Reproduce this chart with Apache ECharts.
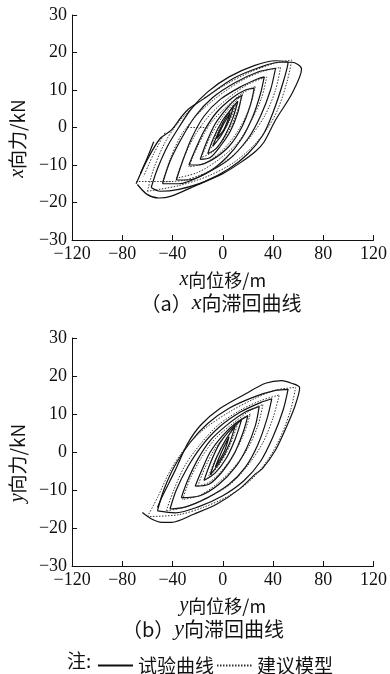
<!DOCTYPE html>
<html>
<head>
<meta charset="utf-8">
<script src="https://cdn.jsdelivr.net/npm/echarts@6/dist/echarts.min.js"></script>
<style>
  html, body { margin: 0; padding: 0; background: #fff; }
  #chart { width: 390px; height: 674px; }
</style>
</head>
<body>
<div id="chart"></div>
<script>
// x向滞回曲线: 试验曲线 (位移, 力 kN)
const xTest1 = [[-69,-15],[-60,-8.5],[-50,-3],[-41,-0.7],[-33,2.8],[-27,5],[-15,7.7],[8,13],[29,16],[45,17.4],[55,17.4],[62.7,15.6],
  [55,9],[42,2],[33,-3.8],[26,-6.4],[13.5,-9.5],[0,-12.3],[-23,-15.7],[-41,-18.3],[-51,-18.8],[-60,-17.9],[-68,-15.2]];
const xTest2 = [[-57,-16],[-52,-11],[-44,-5],[-35,0],[-25,5],[-12,9.5],[5,13.5],[25,16.5],[42,17.8],[52,17.5],
  [48,12],[40,4],[32,-2],[20,-7],[5,-11],[-15,-14.5],[-35,-16.5],[-50,-17],[-57,-16]];
const xTest3 = [[-48,-15],[-42,-9],[-33,-3],[-22,3],[-8,8],[10,12],[28,14.8],[42,15.8],
  [38,10],[30,3],[20,-3],[5,-8.5],[-15,-12.5],[-35,-15],[-48,-15]];
const xTest4 = [[-37,-14],[-32,-9],[-25,-3],[-15,3],[-2,7.5],[15,11],[28,13],[33,13.5],
  [30,9],[24,3],[15,-3],[3,-8],[-12,-12],[-28,-14],[-37,-14]];
const xTest5 = [[-27,-10],[-22,-6],[-15,-1],[-5,4],[8,8],[18,10],[25,10.5],
  [22,6],[15,0],[5,-5],[-8,-8.5],[-20,-10],[-27,-10]];
const xTest6 = [[-18,-8.5],[-13,-4],[-6,1],[3,5],[10,7.5],[15,8.5],
  [12,4],[6,-1],[-2,-5],[-10,-8],[-18,-8.5]];
const xTest7 = [[-12,-7],[-7,-2.5],[0,2],[7,5],[12,7],[8,2.5],[2,-2],[-5,-5.5],[-12,-7]];
const xTest8 = [[-8,-5],[-3,-1],[3,3],[9,6],[5,2],[-1,-2],[-8,-5]];
const xTest9 = [[-5,-3],[0,0.5],[6,4],[1,-0.5],[-5,-3]];
const xTestStart = [[-55,-3.8],[-60,-8],[-65.5,-12.2]];

// x向滞回曲线: 建议模型
const xModel1 = [[-60,-17],[-55,-11],[-46,-4],[-35,1.5],[-20,6.5],[0,11],[20,14.5],[40,17],[55,18],
  [51,12],[44,5],[36,0],[24,-5],[8,-9.5],[-12,-13],[-35,-15.5],[-60,-17]];
const xModel2 = [[-48,-14.5],[-42,-8.5],[-33,-2],[-20,3.5],[-5,8],[15,12.5],[32,15],[46,16],
  [42,10],[34,3.5],[22,-2.5],[8,-7.5],[-10,-11.5],[-30,-14],[-48,-14.5]];
const xModel3 = [[-37,-13.5],[-31,-8],[-22,-2],[-10,3.5],[5,8],[20,11.5],[35,13.5],
  [31,8],[23,2],[12,-4],[-3,-8.5],[-20,-12],[-37,-13.5]];
const xModel4 = [[-27,-10.5],[-20,-5],[-10,1],[3,5.5],[15,9],[26,11],
  [21,5],[12,-1],[0,-6],[-14,-9.5],[-27,-10.5]];
const xModel5 = [[-17,-8],[-10,-2.5],[0,3],[9,6.5],[16,9],[10,3],[2,-2.5],[-8,-6.5],[-17,-8]];
const xModel6 = [[-11,-6],[-4,-1],[4,3.5],[11,6.5],[5,1.5],[-3,-3],[-11,-6]];
const xModelStart = [[-46,-1.4],[-55,-7],[-63,-13]];
const xModelFlat1 = [[-69,-14.4],[-40,-14.4]];
const xModelFlat2 = [[-28,0],[-12,0]];

// y向滞回曲线: 试验曲线
const yTest1 = [[-52,-14.6],[-48.5,-11.9],[-38,-4.9],[-28,2.2],[-17.5,7.1],[-2,11.5],[18.6,15.4],[34,18.1],[47,18.8],[54.7,18.1],[61.2,16.9],
  [57.3,11.9],[49.5,5.7],[41.8,0.4],[31.5,-4.4],[26.3,-5.7],[13.4,-9.7],[-4.6,-13.7],[-22.7,-16.3],[-40.8,-18.5],[-48.5,-18.5],[-56.3,-17.7],[-64,-15.9]];
const yTest2 = [[-52,-15.5],[-47,-10],[-38,-3.5],[-26,2.5],[-12,7.5],[5,11.5],[25,14.5],[42,16.2],[52,16.5],
  [48,11],[40,4],[30,-2.5],[17,-7.5],[0,-11.5],[-20,-14.5],[-38,-16],[-52,-15.5]];
const yTest3 = [[-42,-15],[-37,-10],[-28,-4],[-17,1.5],[-3,6.5],[14,10.5],[30,13],[39,14],
  [35,8.5],[28,2],[18,-4],[5,-8.5],[-12,-12],[-30,-14.5],[-42,-15]];
const yTest4 = [[-33,-12],[-28,-7.5],[-20,-2],[-10,3],[3,7],[18,10.5],[29,12],
  [26,7],[19,1],[10,-4],[-3,-8.5],[-18,-11.5],[-33,-12]];
const yTest5 = [[-22,-9],[-17,-5],[-10,0],[-1,4],[10,7.5],[20,9.5],
  [16,5],[9,-0.5],[0,-5],[-11,-8.5],[-22,-9]];
const yTest6 = [[-15,-7.5],[-10,-3],[-3,2],[5,5.5],[15,8.5],[10,3.5],[3,-1.5],[-6,-5.5],[-15,-7.5]];
const yTest7 = [[-10,-6],[-5,-1.5],[2,3],[10,7],[5,2],[-2,-2.5],[-10,-6]];
const yTest8 = [[-6,-4],[-1,0],[5,4],[1,0],[-6,-4]];

// y向滞回曲线: 建议模型
const yModel1 = [[-60,-17],[-52,-12],[-42,-5],[-30,1],[-15,6],[5,10.5],[25,14],[42,16.3],[58,17],
  [54,11],[46,4],[36,-2],[22,-7.5],[5,-11.5],[-15,-14.5],[-35,-16.5],[-60,-17]];
const yModel2 = [[-45,-15.5],[-39,-10],[-30,-3.5],[-18,2],[-4,7],[14,11],[30,13.5],[45,15],
  [40,9],[32,2.5],[20,-3.5],[6,-8.5],[-12,-12],[-30,-14.5],[-45,-15.5]];
const yModel3 = [[-32,-12.5],[-26,-7],[-17,-1.5],[-6,3.5],[8,7.5],[22,11],[32,12.5],
  [28,7],[20,1],[9,-4],[-5,-8.5],[-19,-11.5],[-32,-12.5]];
const yModel4 = [[-20,-9],[-14,-4],[-6,1],[4,5],[14,8.5],[22,10],[17,5],[9,-0.5],[-1,-5],[-11,-8],[-20,-9]];
const yModel5 = [[-12,-7],[-6,-2],[2,3],[12,7.5],[6,2],[-2,-3],[-12,-7]];

const xTests = [xTest1, xTest2, xTest3, xTest4, xTest5, xTest6, xTest7, xTest8, xTest9, xTestStart];
const xModels = [xModel1, xModel2, xModel3, xModel4, xModel5, xModel6, xModelStart, xModelFlat1, xModelFlat2];
const yTests = [yTest1, yTest2, yTest3, yTest4, yTest5, yTest6, yTest7, yTest8];
const yModels = [yModel1, yModel2, yModel3, yModel4, yModel5];

const serif = 'Liberation Serif, Times New Roman, serif';
const cjk = 'Noto Sans CJK SC, sans-serif';

function testSeries(data, idx) {
  return {
    name: '试验曲线', type: 'line', xAxisIndex: idx, yAxisIndex: idx, data: data,
    symbol: 'none', smooth: 0.3, color: '#111',
    lineStyle: { color: '#111', width: 1.2, type: 'solid' }
  };
}
function modelSeries(data, idx) {
  return {
    name: '建议模型', type: 'line', xAxisIndex: idx, yAxisIndex: idx, data: data,
    symbol: 'none', smooth: 0.3, color: '#333',
    lineStyle: { color: '#333', width: 1, type: [1.5, 1.5] }
  };
}

function negLabel(v) {
  return v < 0 ? '\u2212' + (-v) : '' + v;
}

function xAxisOpt(idx, letter) {
  return {
    gridIndex: idx, type: 'value', min: -120, max: 120, interval: 40,
    name: '{i|' + letter + '}向位移/m', nameLocation: 'middle', nameGap: 30,
    nameTextStyle: { color: '#111', fontSize: 18, fontFamily: cjk,
      rich: { i: { fontStyle: 'italic', fontFamily: serif, fontSize: 20, color: '#111' } } },
    axisLine: { onZero: false, lineStyle: { color: '#111', width: 1 } },
    axisTick: { inside: true, length: 5, lineStyle: { color: '#111' } },
    axisLabel: { color: '#111', fontSize: 18, fontFamily: serif, margin: 5, formatter: negLabel },
    splitLine: { show: false }
  };
}
function yAxisOpt(idx, letter) {
  return {
    gridIndex: idx, type: 'value', min: -30, max: 30, interval: 10,
    name: '{i|' + letter + '}向力/kN', nameLocation: 'middle', nameGap: 40,
    nameTextStyle: { color: '#111', fontSize: 19, fontFamily: cjk, padding: [0, 22, 0, 0],
      rich: { i: { fontStyle: 'italic', fontFamily: serif, fontSize: 20, color: '#111' } } },
    axisLine: { onZero: false, lineStyle: { color: '#111', width: 1 } },
    axisTick: { inside: true, length: 5, lineStyle: { color: '#111' } },
    axisLabel: { color: '#111', fontSize: 18, fontFamily: serif, margin: 5, formatter: negLabel },
    splitLine: { show: false }
  };
}

const series = [];
xTests.forEach(d => series.push(testSeries(d, 0)));
xModels.forEach(d => series.push(modelSeries(d, 0)));
yTests.forEach(d => series.push(testSeries(d, 1)));
yModels.forEach(d => series.push(modelSeries(d, 1)));

const chart = echarts.init(document.getElementById('chart'));
chart.setOption({
  animation: false,
  backgroundColor: '#fff',
  grid: [
    { left: 68, top: 15, width: 308, height: 225 },
    { left: 68, top: 338, width: 311, height: 228 }
  ],
  xAxis: [xAxisOpt(0, 'x'), xAxisOpt(1, 'y')],
  yAxis: [yAxisOpt(0, 'x'), yAxisOpt(1, 'y')],
  legend: {
    data: ['试验曲线', '建议模型'],
    left: 92, top: 651, itemWidth: 35, itemHeight: 10, itemGap: 2,
    selectedMode: false,
    itemStyle: { opacity: 0 },
    textStyle: { color: '#111', fontSize: 19, fontFamily: cjk }
  },
  graphic: [
    { type: 'text', x: 221, y: 303,
      style: { text: '（a）{i|x}向滞回曲线', align: 'center', verticalAlign: 'middle',
        fill: '#111', font: '20px Noto Sans CJK SC',
        rich: { i: { fontStyle: 'italic', fontFamily: serif, fontSize: 22, fill: '#111' } } } },
    { type: 'text', x: 203, y: 629,
      style: { text: '（b）{i|y}向滞回曲线', align: 'center', verticalAlign: 'middle',
        fill: '#111', font: '20px Noto Sans CJK SC',
        rich: { i: { fontStyle: 'italic', fontFamily: serif, fontSize: 22, fill: '#111' } } } },
    { type: 'text', x: 67, y: 661,
      style: { text: '注:', align: 'left', verticalAlign: 'middle',
        fill: '#111', font: '19px Noto Sans CJK SC' } }
  ],
  series: series
});
</script>
</body>
</html>
